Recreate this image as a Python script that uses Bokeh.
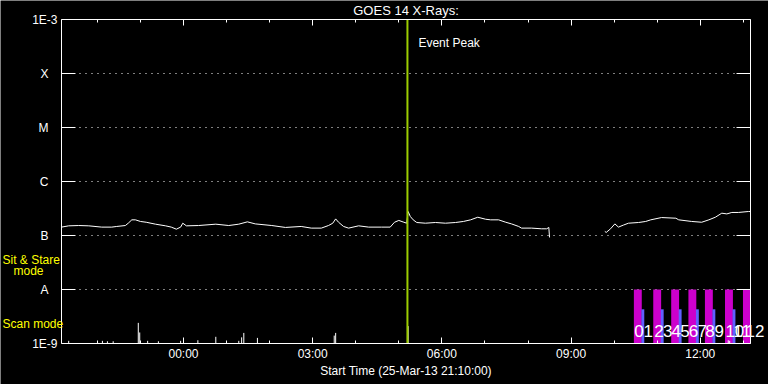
from datetime import datetime, timedelta
import math

from bokeh.core.properties import value
from bokeh.embed import file_html
from bokeh.models import (ColumnDataSource, DatetimeAxis, DatetimeTickFormatter, FixedTicker, Label,
                          LabelSet, LogAxis, Range1d)
from bokeh.plotting import figure
from bokeh.resources import INLINE

# ---------------- data ----------------
title_text = "GOES 14 X-Rays:"
start_time = "2013-03-25 21:10:00"
duration_hours = 16
event_peak = "05:12"
event_text = "Event Peak"

y_tick_values = [1e-3, 1e-4, 1e-5, 1e-6, 1e-7, 1e-8, 1e-9]
y_tick_labels = ["1E-3", "X", "M", "C", "B", "A", "1E-9"]
x_tick_labels = ["00:00", "03:00", "06:00", "09:00", "12:00"]

goes_times = ["21:10", "21:20", "21:34", "21:48", "22:06", "22:20", "22:27", "22:39", "22:43", "22:48",
              "22:53", "23:00", "23:08", "23:21", "23:35", "23:43", "23:50", "23:56", "23:59", "00:04",
              "00:21", "00:45", "01:03", "01:17", "01:29", "01:40", "02:03", "02:22", "02:44", "02:58",
              "03:12", "03:22", "03:28", "03:32", "03:36", "03:43", "03:50", "04:04", "04:18", "04:36",
              "04:48", "04:54", "05:00", "05:07", "05:11", "05:13", "05:16", "05:20", "05:25", "05:37",
              "05:51", "06:05", "06:19", "06:30", "06:40", "06:50", "07:01", "07:08", "07:19", "07:29",
              "07:37", "07:47", "07:51", "08:05", "08:19", "08:26", "08:29", "08:30",
              "09:47", "09:49", "09:55", "10:01", "10:06", "10:13", "10:20", "10:34", "10:44", "10:51",
              "11:06", "11:26", "11:30", "11:48", "12:02", "12:12", "12:21", "12:30", "12:37", "12:44",
              "12:53", "13:07", "13:10"]
goes_flux = [1.43e-7, 1.51e-7, 1.53e-7, 1.51e-7, 1.43e-7, 1.43e-7, 1.47e-7, 1.53e-7, 1.69e-7, 1.95e-7,
             1.95e-7, 1.82e-7, 1.76e-7, 1.62e-7, 1.51e-7, 1.43e-7, 1.31e-7, 1.43e-7, 1.69e-7, 1.51e-7,
             1.53e-7, 1.62e-7, 1.53e-7, 1.62e-7, 1.79e-7, 1.64e-7, 1.53e-7, 1.41e-7, 1.47e-7, 1.37e-7,
             1.37e-7, 1.53e-7, 1.69e-7, 2.03e-7, 1.76e-7, 1.47e-7, 1.37e-7, 1.51e-7, 1.43e-7, 1.43e-7,
             1.43e-7, 1.76e-7, 1.90e-7, 1.76e-7, 1.69e-7, 2.78e-7, 2.25e-7, 1.95e-7, 1.74e-7, 1.69e-7,
             1.74e-7, 1.69e-7, 1.74e-7, 1.82e-7, 1.95e-7, 2.18e-7, 2.00e-7, 1.95e-7, 1.95e-7, 1.76e-7,
             1.64e-7, 1.47e-7, 1.37e-7, 1.37e-7, 1.33e-7, 1.33e-7, 1.41e-7, 9.2e-8,
             1.19e-7, 1.14e-7, 1.33e-7, 1.64e-7, 1.43e-7, 1.56e-7, 1.69e-7, 1.74e-7, 1.82e-7, 1.95e-7,
             2.15e-7, 2.09e-7, 1.95e-7, 1.82e-7, 1.76e-7, 1.95e-7, 2.18e-7, 2.59e-7, 2.51e-7, 2.67e-7,
             2.67e-7, 2.78e-7, 2.78e-7]

scan_times = ["21:20", "22:07", "22:14", "22:22", "22:57", "22:59", "23:10", "23:25", "23:56", "00:20",
              "00:45", "01:17", "01:21", "01:24", "01:43", "03:30", "03:32", "05:13", "12:39", "12:41"]
scan_flux = [1.12e-9, 1.12e-9, 1.1e-9, 1.1e-9, 2.41e-9, 1.6e-9, 1.12e-9, 1.1e-9, 1.12e-9, 1.15e-9,
             1.33e-9, 1.12e-9, 1.3e-9, 1.57e-9, 1.27e-9, 1.4e-9, 1.57e-9, 2.1e-9, 1.15e-9, 1.12e-9]

sit_stare_times = ["10:33", "11:00", "11:25", "11:49", "12:12", "12:40", "13:05"]
sit_stare_level = [1e-8, 1e-8, 1e-8, 1e-8, 1e-8, 1e-8, 1e-8]
scan_bar_times = ["10:40", "11:07", "11:32", "11:56", "12:19", "12:47"]
scan_bar_level = [4.3e-9, 4.3e-9, 4.3e-9, 4.3e-9, 4.3e-9, 4.3e-9]

seq_labels = ["0", "1", "2", "3", "4", "5", "6", "7", "8", "9", "10", "11", "12"]
seq_times = ["10:28", "10:41", "10:56", "11:08", "11:20", "11:32", "11:44", "11:56", "12:07", "12:20",
             "12:35", "12:46", "13:03"]

mode_labels = ["Sit & Stare", "mode", "Scan mode"]

# ---------------- helpers ----------------
START = datetime.strptime(start_time, "%Y-%m-%d %H:%M:%S")
END = START + timedelta(hours=duration_hours)
EPOCH = datetime(1970, 1, 1)


def clock(s):
    h, m = map(int, s.split(":"))
    d = START.replace(hour=h, minute=m, second=0)
    if d < START:
        d += timedelta(days=1)
    return d


def ms(d):
    return (d - EPOCH).total_seconds() * 1000.0


FONT = "Liberation Sans"
Y0, Y1 = y_tick_values[-1], y_tick_values[0]
W, H = 768, 384
# plot box inside the canvas (pixels)
PL, PR, PT, PB = 61, 18, 19, 41
ms_per_px = (ms(END) - ms(START)) / (W - PL - PR)
dec_per_px = (math.log10(Y1) - math.log10(Y0)) / (H - PT - PB)
x_lo, x_hi = ms(START) - PL * ms_per_px, ms(END) + PR * ms_per_px
y_lo = 10 ** (math.log10(Y0) - PB * dec_per_px)
y_hi = 10 ** (math.log10(Y1) + PT * dec_per_px)

p = figure(width=W, height=H, x_axis_type="datetime", y_axis_type="log",
           x_range=Range1d(x_lo, x_hi), y_range=Range1d(y_lo, y_hi),
           output_backend="svg", toolbar_location=None,
           background_fill_color="black", border_fill_color="black", outline_line_color=None,
           min_border_left=0, min_border_right=0, min_border_top=0, min_border_bottom=0)
p.title.visible = False
p.grid.visible = False

# ticks
major_x = [ms(clock(t)) for t in x_tick_labels]
minor_x = [ms(START.replace(minute=0) + timedelta(hours=k)) for k in range(1, duration_hours + 1)]
xticker = FixedTicker(ticks=major_x, minor_ticks=minor_x)
fmt = DatetimeTickFormatter(minutes="%H:%M", hourmin="%H:%M", hours="%H:%M", days="%H:%M",
                            months="%H:%M", years="%H:%M")
yticker = FixedTicker(ticks=y_tick_values, minor_ticks=[])
xb = (ms(START), ms(END))
yb = (Y0, Y1)

xa = p.xaxis[0]
xa.ticker = xticker
xa.formatter = fmt
xa.fixed_location = Y0
xa.bounds = xb
xa.axis_label = "Start Time (" + START.strftime("%d-%b-%y %H:%M:%S") + ")"
xa.major_label_text_color = "white"
xa.major_label_text_font = FONT
xa.major_label_text_font_size = "12px"
xa.major_label_standoff = 3
xa.axis_label_text_color = "white"
xa.axis_label_text_font = FONT
xa.axis_label_text_font_size = "12px"
xa.axis_label_text_font_style = "normal"
xa.axis_label_standoff = 0

top = DatetimeAxis(ticker=xticker, formatter=fmt, fixed_location=Y1, bounds=xb)
p.add_layout(top, "above")
ya = p.yaxis[0]
ya.ticker = yticker
ya.fixed_location = ms(START)
ya.bounds = yb
right = LogAxis(ticker=yticker, fixed_location=ms(END), bounds=yb)
p.add_layout(right, "right")

for ax in (xa, top):
    ax.major_tick_in = 6
    ax.major_tick_out = 0
    ax.minor_tick_in = 3
    ax.minor_tick_out = 0
for ax in (ya, right):
    ax.major_tick_in = 14
    ax.major_tick_out = 0
    ax.minor_tick_in = 0
    ax.minor_tick_out = 0
for ax in (xa, top, ya, right):
    ax.axis_line_color = "white"
    ax.major_tick_line_color = "white"
    ax.minor_tick_line_color = "white"
for ax in (top, ya, right):
    ax.major_label_text_color = None
    ax.major_label_text_font_size = "0px"
    ax.major_label_standoff = 0


def label_axis(ticks, labels, standoff):
    ax = LogAxis(ticker=FixedTicker(ticks=ticks, minor_ticks=[]), fixed_location=ms(START), bounds=yb,
                 major_label_overrides={t: s for t, s in zip(ticks, labels)})
    ax.axis_line_color = None
    ax.major_tick_line_color = None
    ax.minor_tick_line_color = None
    ax.major_tick_in = 0
    ax.major_tick_out = 0
    ax.minor_tick_in = 0
    ax.minor_tick_out = 0
    ax.major_label_standoff = standoff
    ax.major_label_text_color = "white"
    ax.major_label_text_font = FONT
    ax.major_label_text_font_size = "12px"
    p.add_layout(ax, "left")


# y tick labels: decade numbers and GOES class letters
label_axis([y_tick_values[0], y_tick_values[-1]], [y_tick_labels[0], y_tick_labels[-1]], 4)
label_axis(y_tick_values[1:-1], y_tick_labels[1:-1], 13)

# dotted class lines
gy = y_tick_values[1:-1]
p.segment(x0=[START] * len(gy), x1=[END] * len(gy), y0=gy, y1=gy,
          line_color="white", line_width=1, line_dash="1 5")

# mode bars
p.vbar(x=[clock(t) for t in sit_stare_times], width=11 * 60 * 1000, bottom=Y0, top=sit_stare_level,
       fill_color="#cc00cc", line_color=None)
p.vbar(x=[clock(t) for t in scan_bar_times], width=4 * 60 * 1000, bottom=Y0, top=scan_bar_level,
       fill_color="#6060ff", line_color=None)

# sequence numbers over the bars
seq_src = ColumnDataSource(dict(x=[clock(t) for t in seq_times], y=[Y0] * len(seq_times), text=seq_labels))
p.add_layout(LabelSet(x="x", y="y", text="text", source=seq_src, y_offset=7, text_color="white",
                      text_font=value(FONT), text_font_size="17px", text_align="left",
                      text_baseline="alphabetic"))

# scan-mode spikes
st = [clock(t) for t in scan_times]
p.segment(x0=st, y0=[Y0] * len(st), x1=st, y1=scan_flux, line_color="white", line_width=1)

# GOES curve, broken at data gaps
xs, ys = [[]], [[]]
prev = None
for t, f in zip(goes_times, goes_flux):
    d = clock(t)
    if prev is not None and (d - prev) > timedelta(minutes=40):
        xs.append([])
        ys.append([])
    xs[-1].append(ms(d))
    ys[-1].append(f)
    prev = d
p.multi_line(xs=xs, ys=ys, line_color="white", line_width=1)

# event peak
ev = clock(event_peak)
p.segment(x0=[ev], x1=[ev], y0=[Y0], y1=[Y1], line_color="#9ccc00", line_width=2)
p.add_layout(Label(x=ev, y=Y1, text=event_text, x_offset=11, y_offset=-23,
                   text_color="white", text_font=FONT, text_font_size="12px",
                   text_baseline="alphabetic", text_align="left"))

# title
p.add_layout(Label(x=START + (END - START) / 2, y=Y1, text=title_text, y_offset=9,
                   text_color="white", text_font=FONT, text_font_size="13px",
                   text_baseline="alphabetic", text_align="center"))

# mode labels (yellow), to the left of the plot box
for txt, yv, dx in ((mode_labels[0], 3.03e-8, -59), (mode_labels[1], 1.82e-8, -48),
                    (mode_labels[2], 1.90e-9, -59)):
    p.add_layout(Label(x=START, y=yv, text=txt, x_offset=dx, y_offset=4,
                       text_color="#ffff00", text_font=FONT, text_font_size="12px",
                       text_baseline="alphabetic", text_align="left"))

open("out.html", "w").write(file_html(p, INLINE))
